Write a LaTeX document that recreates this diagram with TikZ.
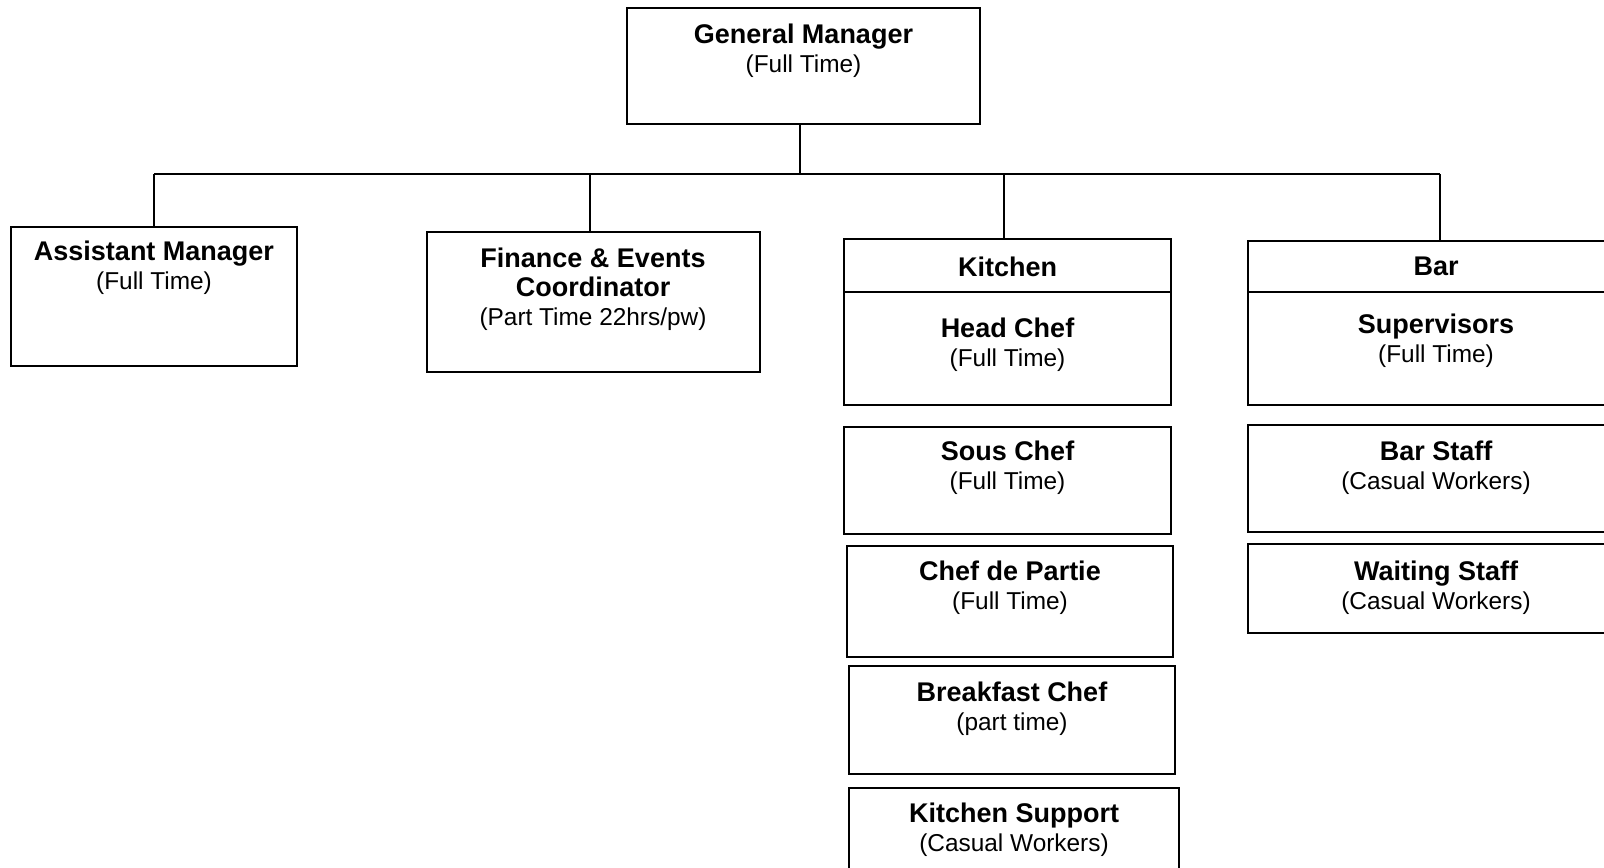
\documentclass[tikz,border=0pt]{standalone}
\usepackage{fontspec}
\setmainfont{Liberation Sans}
\usetikzlibrary{fit}
\newcommand\rolettl[1]{{\fontsize{13.5}{15}\selectfont\bfseries #1}}
\tikzset{
  box/.style={draw, line width=0.9pt, inner sep=0pt, outer sep=0pt},
  lbl/.style={align=center, anchor=base, inner sep=0pt, font=\fontsize{12.2}{14.5}\selectfont},
  conn/.style={line width=0.9pt},
}
\begin{document}
\begin{tikzpicture}[x=0.5pt,y=-0.5pt]
\clip (0,0) rectangle (1604,867);
\fill[white] (0,0) rectangle (1604,867);
% boxes
\node[box, fit={(627,8) (980,124)}] (gm) {};
\node[box, fit={(11,227) (297,366)}] (am) {};
\node[box, fit={(427,232) (760,372)}] (fe) {};
\node[box, fit={(844,239) (1171,405)}] (kit) {};
\node[box, fit={(1248,241) (1624,405)}] (bar) {};
\node[box, fit={(844,427) (1171,534)}] (sous) {};
\node[box, fit={(847,546) (1173,657)}] (cdp) {};
\node[box, fit={(849,666) (1175,774)}] (bfc) {};
\node[box, fit={(849,788) (1179,900)}] (ks) {};
\node[box, fit={(1248,425) (1624,532)}] (bs) {};
\node[box, fit={(1248,544) (1624,633)}] (ws) {};
% dividers
\draw[conn] (kit.west |- 0,292) -- (kit.east |- 0,292);
\draw[conn] (bar.west |- 0,292) -- (bar.east |- 0,292);
% labels (anchored at the baseline of their last line)
\node[lbl] (gm-l) at (803.5,72) {\rolettl{General Manager}\\(Full Time)};
\node[lbl] (am-l) at (154,289) {\rolettl{Assistant Manager}\\(Full Time)};
\node[lbl] (fe-l) at (593,325.5) {\rolettl{Finance \& Events}\\\rolettl{Coordinator}\\(Part Time 22hrs/pw)};
\node[lbl] (kit-l) at (1007.5,276) {\rolettl{Kitchen}};
\node[lbl] (hc-l) at (1007.5,366) {\rolettl{Head Chef}\\(Full Time)};
\node[lbl] (sous-l) at (1007.5,489.5) {\rolettl{Sous Chef}\\(Full Time)};
\node[lbl] (cdp-l) at (1010,609) {\rolettl{Chef de Partie}\\(Full Time)};
\node[lbl] (bfc-l) at (1012,730.5) {\rolettl{Breakfast Chef}\\(part time)};
\node[lbl] (ks-l) at (1014,851.5) {\rolettl{Kitchen Support}\\(Casual Workers)};
\node[lbl] (bar-l) at (1436,275) {\rolettl{Bar}};
\node[lbl] (sup-l) at (1436,362.5) {\rolettl{Supervisors}\\(Full Time)};
\node[lbl] (bs-l) at (1436,489.5) {\rolettl{Bar Staff}\\(Casual Workers)};
\node[lbl] (ws-l) at (1436,609) {\rolettl{Waiting Staff}\\(Casual Workers)};
% connectors
\coordinate (busL) at (154,174);
\coordinate (busR) at (1440,174);
\draw[conn] (busL) -- (busR);
\draw[conn] ([xshift=-1.75pt]gm.south) -- ([xshift=-1.75pt]gm.south |- busL);
\draw[conn] (am.north) -- (am.north |- busL);
\draw[conn] ([xshift=-1.75pt]fe.north) -- ([xshift=-1.75pt]fe.north |- busL);
\draw[conn] ([xshift=-1.75pt]kit.north) -- ([xshift=-1.75pt]kit.north |- busL);
\draw[conn] ([xshift=2pt]bar.north) -- ([xshift=2pt]bar.north |- busL);
\end{tikzpicture}
\end{document}
